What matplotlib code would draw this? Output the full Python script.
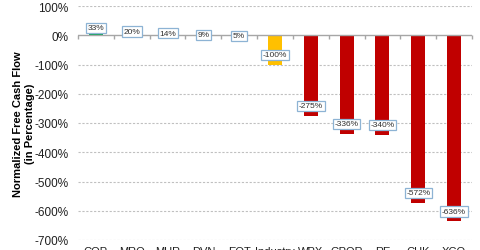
import matplotlib
matplotlib.use('Agg')
import matplotlib.pyplot as plt
import numpy as np

plt.rcParams['font.family'] = ['Liberation Sans', 'DejaVu Sans']

categories = ['COP', 'MRO', 'MUR', 'DVN', 'EQT', 'Industry', 'WPX', 'GPOR', 'RE', 'CHK', 'XCO']
values = [33, 20, 14, 9, 5, -100, -275, -336, -340, -572, -636]
colors = ['#00A550'] * 5 + ['#FFC000'] + ['#C00000'] * 5
yticks = list(range(-700, 101, 100))

fig = plt.figure(figsize=(4.8, 2.51), dpi=100)
ax = fig.add_axes([78 / 480, 1 - 241 / 251, (472 - 78) / 480, 234 / 251])

x = np.arange(len(categories))
ax.bar(x, values, width=0.39, color=colors, zorder=2)

for xi, v in zip(x, values):
    off = -1.5 if v > 0 else 7
    ax.annotate(f'{v}%', (xi, v), xytext=(0, off), textcoords='offset points',
                ha='center', va='center', fontsize=6, color='#303030', zorder=4,
                bbox=dict(boxstyle='square,pad=0.2', fc='white', ec='#8db3d4', lw=0.9))

ax.set_ylim(-700, 100)
ax.set_xlim(-0.5, len(categories) - 0.5)
ax.set_yticks(yticks)
ax.set_yticklabels([f'{t}%' for t in yticks], fontsize=8.5, color='#202020')
for t in yticks:
    if t != 0:
        ax.axhline(t, color='#c0c0c0', lw=0.8, ls=(0, (2, 1.5)), zorder=1)
ax.axhline(0, color='#a6a6a6', lw=1, zorder=3)
bounds = np.arange(len(categories) + 1) - 0.5
ax.plot(bounds, np.zeros_like(bounds), ls='none', marker=3, ms=3, mew=1, color='#a6a6a6',
        zorder=3, clip_on=False)

ax.set_xticks(x)
ax.set_xticklabels(categories, fontsize=8, color='#202020')
ax.tick_params(axis='x', length=0, pad=4)
ax.tick_params(axis='y', length=0, pad=7)
for s in ax.spines.values():
    s.set_visible(False)

fig.text(24 / 480, 0.505, 'Normalized Free Cash Flow\n(in Percentage)', rotation=90,
         ha='center', va='center', fontsize=8, fontweight='bold', multialignment='center')

fig.savefig('out.png', dpi=100)
